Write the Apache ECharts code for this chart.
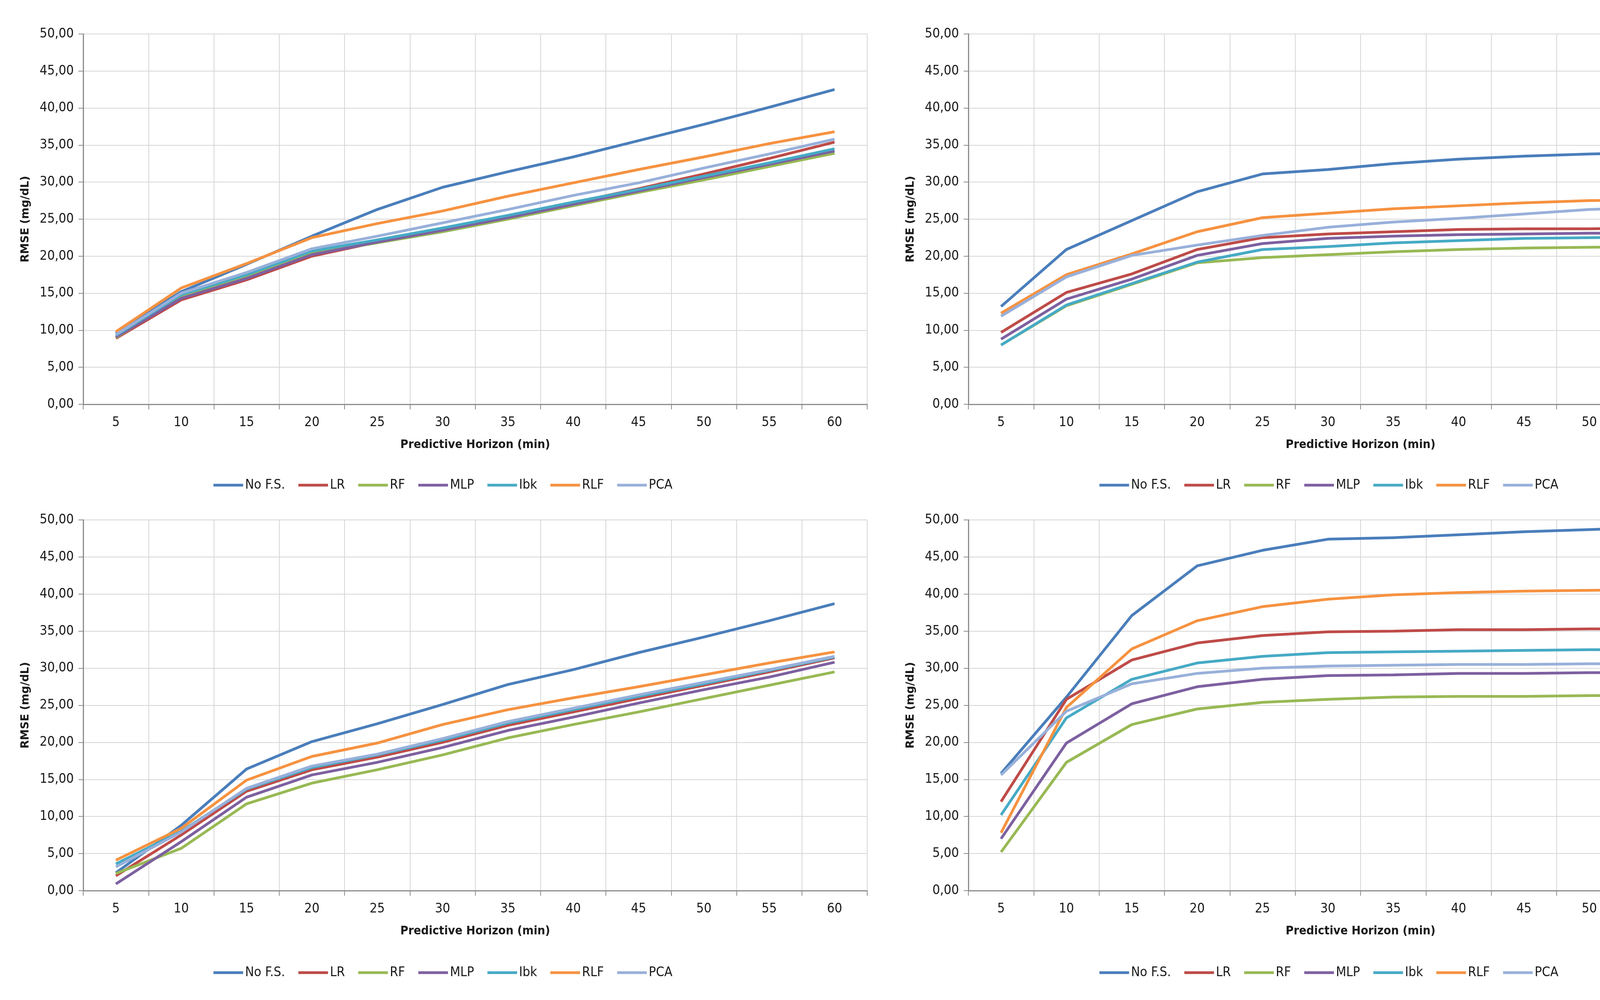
<!DOCTYPE html>
<html>
<head>
<meta charset="utf-8">
<script src="https://cdn.jsdelivr.net/npm/echarts@6/dist/echarts.min.js"></script>
<style>
body{margin:0;background:#fff;}
.c{position:absolute;width:2268px;height:1280px;}
</style>
</head>
<body>
<div id="chart1" class="c" style="left:0;top:0"></div>
<div id="chart2" class="c" style="left:2268px;top:0"></div>
<div id="chart3" class="c" style="left:0;top:1280px"></div>
<div id="chart4" class="c" style="left:2268px;top:1280px"></div>
<script type="text/javascript">
// categorie (min)
var horizons = ['5','10','15','20','25','30','35','40','45','50','55','60'];
var names = ['No F.S.','LR','RF','MLP','Ibk','RLF','PCA'];
var colors = ['#4A7EBB','#BE4B48','#98B954','#7D60A0','#46AAC5','#F69240','#98B0DA'];

// grafico 1 (alto sx)
var c1_nofs = [9.6,15.2,18.9,22.7,26.3,29.3,31.4,33.4,35.6,37.8,40.1,42.5];
var c1_lr   = [8.9,14.1,16.8,20.0,21.9,23.6,25.4,27.2,29.1,31.1,33.2,35.4];
var c1_rf   = [9.0,14.5,17.2,20.4,21.8,23.3,25.0,26.8,28.6,30.3,32.1,33.9];
var c1_mlp  = [9.1,14.3,17.0,20.2,21.9,23.5,25.2,27.0,28.8,30.6,32.4,34.2];
var c1_ibk  = [9.3,14.8,17.5,20.7,22.2,23.8,25.5,27.3,29.0,30.8,32.6,34.5];
var c1_rlf  = [9.8,15.7,19.0,22.5,24.4,26.1,28.1,29.9,31.7,33.4,35.2,36.8];
var c1_pca  = [9.4,15.0,17.8,21.0,22.7,24.5,26.3,28.2,29.9,31.9,33.8,35.8];

// grafico 2 (alto dx)
var c2_nofs = [13.2,20.9,24.8,28.7,31.1,31.7,32.5,33.1,33.5,33.8,34.0,34.2];
var c2_lr   = [9.7,15.1,17.6,20.9,22.5,23.0,23.3,23.6,23.7,23.7,23.8,23.8];
var c2_rf   = [8.0,13.3,16.2,19.1,19.8,20.2,20.6,20.9,21.1,21.2,21.3,21.3];
var c2_mlp  = [8.8,14.2,16.9,20.1,21.7,22.4,22.7,22.9,23.0,23.1,23.1,23.2];
var c2_ibk  = [8.0,13.4,16.3,19.2,20.9,21.3,21.8,22.1,22.4,22.5,22.6,22.6];
var c2_rlf  = [12.3,17.5,20.3,23.3,25.2,25.8,26.4,26.8,27.2,27.5,27.6,27.8];
var c2_pca  = [11.9,17.2,20.1,21.5,22.8,23.9,24.6,25.1,25.7,26.3,26.6,26.9];

// grafico 3 (basso sx)
var c3_nofs = [2.4,8.8,16.4,20.1,22.5,25.1,27.8,29.8,32.1,34.2,36.4,38.7];
var c3_lr   = [2.0,7.5,13.4,16.3,18.0,20.0,22.3,24.1,25.9,27.7,29.5,31.4];
var c3_rf   = [2.3,5.7,11.7,14.5,16.3,18.3,20.6,22.4,24.1,25.9,27.7,29.5];
var c3_mlp  = [0.9,6.6,12.6,15.6,17.3,19.3,21.6,23.4,25.3,27.1,28.8,30.8];
var c3_ibk  = [3.6,8.0,13.7,16.6,18.3,20.3,22.6,24.4,26.2,27.9,29.7,31.5];
var c3_rlf  = [4.1,8.4,14.9,18.1,19.9,22.4,24.4,26.0,27.5,29.1,30.7,32.2];
var c3_pca  = [3.2,7.9,13.8,16.8,18.4,20.5,22.8,24.6,26.4,28.1,29.8,31.6];

// grafico 4 (basso dx)
var c4_nofs = [15.8,26.1,37.1,43.8,45.9,47.4,47.6,48.0,48.4,48.7,49.0,49.5];
var c4_lr   = [12.0,25.8,31.1,33.4,34.4,34.9,35.0,35.2,35.2,35.3,35.3,35.4];
var c4_rf   = [5.2,17.3,22.4,24.5,25.4,25.8,26.1,26.2,26.2,26.3,26.3,26.3];
var c4_mlp  = [7.0,19.9,25.2,27.5,28.5,29.0,29.1,29.3,29.3,29.4,29.4,29.4];
var c4_ibk  = [10.2,23.3,28.5,30.7,31.6,32.1,32.2,32.3,32.4,32.5,32.5,32.5];
var c4_rlf  = [7.8,24.7,32.6,36.4,38.3,39.3,39.9,40.2,40.4,40.5,40.6,40.7];
var c4_pca  = [15.6,24.2,27.9,29.3,30.0,30.3,30.4,30.5,30.5,30.6,30.6,30.6];

var yTicks = [0,5,10,15,20,25,30,35,40,45,50];

var narrow = "'Liberation Sans Narrow','DejaVu Sans Condensed',sans-serif";

function makeChart(id, datas, grid, legendTop)
{
    var series = [];
    for(var i=0;i<names.length;i++){
        series.push({
            name: names[i],
            type: 'line',
            data: datas[i],
            showSymbol: false,
            symbol: 'none',
            lineStyle: {width: 7, color: colors[i]},
            itemStyle: {color: colors[i]},
            animation: false
        });
    }
    var option = {
        animation: false,
        color: colors,
        grid: grid,
        legend: {
            data: names,
            top: legendTop,
            left: 'center',
            icon: 'rect',
            itemWidth: 76,
            itemHeight: 7,
            itemGap: 34,
            textStyle: {fontFamily: narrow, fontSize: 34, color: '#1a1a1a'}
        },
        xAxis: {
            type: 'category',
            data: horizons,
            boundaryGap: true,
            name: 'Predictive Horizon (min)',
            nameLocation: 'middle',
            nameGap: 88,
            nameTextStyle: {fontFamily: narrow, fontSize: 31, fontWeight: 'bold', color: '#1a1a1a'},
            axisLine: {lineStyle: {color: '#8c8c8c', width: 3}},
            axisTick: {show: true, length: 13, lineStyle: {color: '#8c8c8c', width: 2}},
            axisLabel: {fontFamily: narrow, fontSize: 34, color: '#1a1a1a', margin: 30},
            splitLine: {show: true, lineStyle: {color: '#d6d6d6', width: 2}}
        },
        yAxis: {
            type: 'value',
            min: yTicks[0],
            max: yTicks[yTicks.length-1],
            interval: 5,
            name: 'RMSE (mg/dL)',
            nameLocation: 'middle',
            nameGap: 133,
            nameTextStyle: {fontFamily: "'DejaVu Sans',sans-serif", fontSize: 28, fontWeight: 'bold', color: '#1a1a1a'},
            axisLine: {show: true, lineStyle: {color: '#8c8c8c', width: 3}},
            axisTick: {show: true, length: 12, lineStyle: {color: '#8c8c8c', width: 2}},
            axisLabel: {
                fontFamily: narrow, fontSize: 34, color: '#1a1a1a', margin: 24,
                formatter: function(v){ return v.toFixed(2).replace('.', ','); }
            },
            splitLine: {show: true, lineStyle: {color: '#d6d6d6', width: 2}}
        },
        series: series
    };
    echarts.init(document.getElementById(id)).setOption(option);
}

makeChart('chart1', [c1_nofs,c1_lr,c1_rf,c1_mlp,c1_ibk,c1_rlf,c1_pca],
    {left: 213, right: 48, top: 87, bottom: 245}, 1220);
makeChart('chart2', [c2_nofs,c2_lr,c2_rf,c2_mlp,c2_ibk,c2_rlf,c2_pca],
    {left: 211, right: 49, top: 87, bottom: 245}, 1220);
makeChart('chart3', [c3_nofs,c3_lr,c3_rf,c3_mlp,c3_ibk,c3_rlf,c3_pca],
    {left: 213, right: 48, top: 51, bottom: 280}, 1188);
makeChart('chart4', [c4_nofs,c4_lr,c4_rf,c4_mlp,c4_ibk,c4_rlf,c4_pca],
    {left: 211, right: 49, top: 51, bottom: 280}, 1188);
</script>
</body>
</html>
